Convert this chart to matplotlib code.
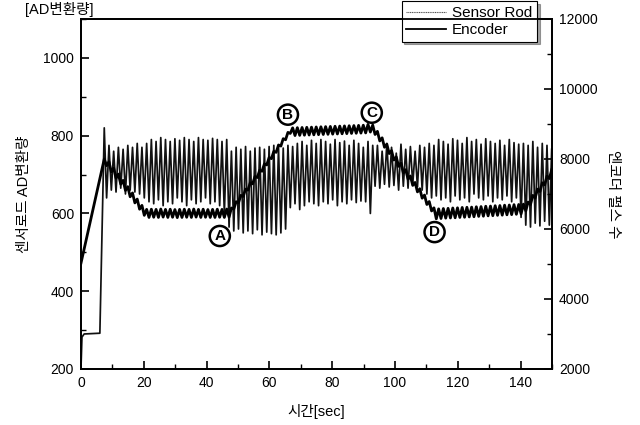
import numpy as np
import matplotlib
matplotlib.use("Agg")
import matplotlib.pyplot as plt
from matplotlib.ticker import MultipleLocator

plt.rcParams['font.family'] = ['Liberation Sans', 'Noto Sans CJK KR', 'DejaVu Sans']

# ---- Sensor rod (AD counts, left axis) ----
# start-up part before oscillation
sensor_t_start = [0.0, 0.3, 1.0, 6.0, 7.4]
sensor_v_start = [205, 282, 290, 292, 820]
# oscillation: (trough, peak) of each cycle, sampled at 0.75 s half-period from 8.15 s
sensor_dt = 0.75
sensor_t0 = 8.15
sensor_cycles = [
    (640, 775), (660, 760), (655, 770), (665, 765), (650, 775), (660, 770), (655, 780), (650, 770),
    (640, 780), (630, 790), (625, 785), (635, 795), (620, 790), (630, 785), (625, 792), (640, 788),
    (630, 795), (620, 790), (635, 785), (625, 795), (630, 790), (640, 788), (625, 793), (630, 790),
    (620, 785),
    (600, 790), (565, 760), (555, 770), (560, 765), (550, 772), (555, 760), (548, 768), (558, 770),
    (545, 765), (552, 772), (548, 775), (545, 770), (550, 768), (560, 775),
    (615, 772), (625, 780), (610, 785), (620, 775), (630, 788), (625, 780), (620, 790), (630, 785),
    (625, 778), (635, 790), (620, 782), (630, 786), (625, 775), (635, 788), (628, 780), (632, 770),
    (630, 785),
    (600, 775),
    (670, 775), (665, 760), (675, 780), (668, 770), (672, 755), (660, 778), (670, 765), (665, 772),
    (675, 760), (668, 775), (660, 770),
    (650, 780), (640, 775), (645, 790), (635, 785), (640, 778), (630, 792), (645, 788), (635, 780),
    (640, 795), (630, 785), (650, 790), (640, 778), (635, 792), (645, 785), (630, 780), (640, 788),
    (635, 775), (645, 790), (630, 782), (640, 778),
    (590, 780), (570, 775), (565, 785), (575, 770), (568, 780), (580, 775), (570, 765),
]

# ---- Encoder (pulse count, right axis) ----
encoder_t_start = [0.0]
encoder_v_start = [5030]
# turning points sampled every 0.75 s from 7.4 s
encoder_dt = 0.75
encoder_t0 = 7.4
encoder_points = [
    8000, 7810, 7920, 7630, 7740, 7455, 7570, 7280, 7390, 7100, 7210, 6920, 7030, 6745, 6855, 6565,
    6675, 6390,
    6560, 6330, 6565, 6335, 6560, 6330, 6570, 6340, 6560, 6330, 6565, 6335, 6555, 6325, 6560, 6330,
    6565, 6335, 6560, 6330, 6570, 6340, 6560, 6330, 6565, 6335, 6555, 6330, 6560, 6330, 6565, 6335,
    6560, 6330, 6570, 6340,
    6600, 6570, 6780, 6750, 6960, 6930, 7140, 7110, 7320, 7290, 7500, 7470, 7680, 7650, 7860, 7830,
    8040, 8010, 8220, 8190, 8400, 8370, 8580, 8550, 8760, 8730,
    8890, 8670, 8895, 8675, 8900, 8680, 8905, 8685, 8910, 8690, 8915, 8695, 8920, 8700, 8925, 8705,
    8930, 8710, 8935, 8715, 8940, 8720, 8945, 8725, 8950, 8730, 8955, 8735, 8960, 8740, 8965, 8745,
    8990, 8770,
    8970, 8700, 8790, 8515, 8605, 8335, 8425, 8155, 8240, 7970, 8060, 7790, 7880, 7605, 7695, 7425,
    7515, 7245, 7330, 7060, 7150, 6880, 6970, 6700, 6785, 6515, 6605,
    6290, 6575, 6300, 6585, 6310, 6590, 6315, 6600, 6320, 6605, 6330, 6615, 6335, 6620, 6345, 6625,
    6350, 6635, 6360, 6640, 6365, 6650, 6375, 6655, 6380, 6665, 6390, 6670, 6395, 6680, 6405, 6685,
    6410, 6695, 6420, 6700, 6430, 6710,
    6520, 6770, 6700, 6960, 6890, 7140, 7070, 7320, 7260, 7510, 7440, 7690,
]

# annotation markers (time, AD value)
marker_labels = ['A', 'B', 'C', 'D']
marker_t = [44.2, 65.9, 92.6, 112.6]
marker_v = [542, 854, 859, 552]

# assemble sampled series
sensor_osc = [v for pair in sensor_cycles for v in pair]
sensor_t = np.concatenate([sensor_t_start,
                           sensor_t0 + sensor_dt * np.arange(len(sensor_osc))])
sensor_v = np.concatenate([sensor_v_start, sensor_osc])

encoder_t = np.concatenate([encoder_t_start,
                            encoder_t0 + encoder_dt * np.arange(len(encoder_points))])
encoder_v = np.concatenate([encoder_v_start, encoder_points])

fig = plt.figure(figsize=(6.4, 4.25), dpi=100)
ax = fig.add_axes([0.1266, 0.1318, 0.7359, 0.8235])
ax2 = ax.twinx()

l1, = ax.plot(sensor_t, sensor_v, color='#111111', lw=1.25, label='Sensor Rod')
l2, = ax2.plot(encoder_t, encoder_v, color='black', lw=2.0, label='Encoder')

ax.set_xlim(0, 150)
ax.set_ylim(200, 1100)
ax2.set_ylim(2000, 12000)

ax.xaxis.set_major_locator(MultipleLocator(20))
ax.xaxis.set_minor_locator(MultipleLocator(10))
ax.yaxis.set_major_locator(MultipleLocator(200))
ax.yaxis.set_minor_locator(MultipleLocator(100))
ax2.yaxis.set_major_locator(MultipleLocator(2000))
ax2.yaxis.set_minor_locator(MultipleLocator(1000))

for a in (ax, ax2):
    a.tick_params(which='major', direction='in', length=6, width=1.2, labelsize=10, pad=5)
    a.tick_params(which='minor', direction='in', length=3.5, width=1.0)
    for s in a.spines.values():
        s.set_linewidth(1.3)
ax.tick_params(axis='x', which='both', top=False)

ax.set_xlabel('시간[sec]', fontsize=10.5, labelpad=10)
ax.set_ylabel('센서로드 AD변환량', fontsize=10.5, labelpad=9)
ax2.set_ylabel('엔코더 펄스 수', fontsize=10.5, rotation=270, labelpad=16)
ax.text(-0.118, 1.027, '[AD변환량]', transform=ax.transAxes, fontsize=10.5,
        ha='left', va='center')

for lab, t, v in zip(marker_labels, marker_t, marker_v):
    ax.text(t, v, lab, ha='center', va='center', fontsize=11, fontweight='bold',
            bbox=dict(boxstyle='circle,pad=0.2', fc='white', ec='black', lw=1.8),
            zorder=5)

leg = ax.legend(handles=[l1, l2], loc='upper right', bbox_to_anchor=(0.968, 1.05),
                fontsize=11, frameon=True, fancybox=False, shadow=True,
                edgecolor='black', framealpha=1, borderpad=0.3, labelspacing=0.2,
                handlelength=2.6, handletextpad=0.4, borderaxespad=0)
leg.get_frame().set_linewidth(0.8)
leg.set_zorder(10)
l1_leg = leg.get_lines()[0]
l1_leg.set_color('#555555')
l1_leg.set_linewidth(0.8)
l1_leg.set_linestyle((0, (1, 0.6)))
leg.get_lines()[1].set_linewidth(1.3)

fig.savefig('out.png', dpi=100)
